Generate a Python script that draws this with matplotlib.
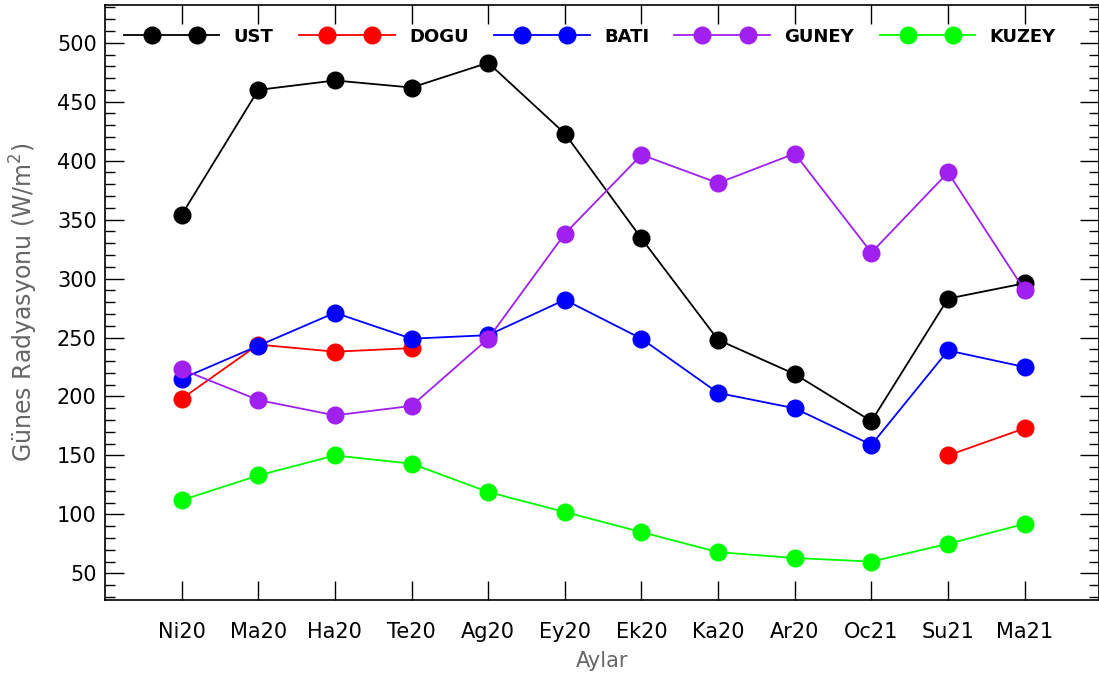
import numpy as np
import matplotlib.pyplot as plt
from matplotlib.lines import Line2D
from matplotlib.legend_handler import HandlerLine2DCompound

# aylar
aylar = ["Ni20", "Ma20", "Ha20", "Te20", "Ag20", "Ey20",
         "Ek20", "Ka20", "Ar20", "Oc21", "Su21", "Ma21"]

# yonlere gore gunes radyasyonu (W/m2)
ust = [354, 460, 468, 462, 483, 423, 334, 248, 219, 179, 283, 296]
dogu = [198, 244, 238, 241, np.nan, np.nan, np.nan, np.nan, np.nan, np.nan, 150, 173]
bati = [215, 243, 271, 249, 252, 282, 249, 203, 190, 159, 239, 225]
guney = [223, 197, 184, 192, 249, 338, 405, 381, 406, 322, 390, 290]
kuzey = [112, 133, 150, 143, 119, 102, 85, 68, 63, 60, 75, 92]

seriler = [("UST", ust, "black"), ("DOGU", dogu, "red"), ("BATI", bati, "blue"),
           ("GUNEY", guney, "#a020f0"), ("KUZEY", kuzey, "#00ff00")]


# lejantta cizgi tam uzunlukta, iki nokta iceride
class IkiNokta(HandlerLine2DCompound):
    def get_xdata(self, legend, xdescent, ydescent, width, height, fontsize):
        xd = np.array([-xdescent, width - xdescent])
        pad = 1.55 * fontsize
        xm = np.array([-xdescent + pad, width - xdescent - pad * 0.8])
        return xd, xm


x = np.arange(1, len(aylar) + 1)

fig = plt.figure(figsize=(10.99, 6.74), dpi=100)
ax = fig.add_axes([105 / 1099, 74 / 674, 1 - 105 / 1099, 595 / 674])

for ad, deger, renk in seriler:
    ax.plot(x, deger, color=renk, lw=1.3, marker="o", markersize=13,
            markeredgewidth=0, label=ad)

ax.set_xlim(0, 12.97)
ax.set_ylim(27.4, 532)
ax.set_xticks(x)
ax.set_xticklabels(aylar)
ax.set_yticks(np.arange(50, 501, 50))
ax.set_yticks(np.arange(30, 531, 10), minor=True)

ax.tick_params(axis="both", which="both", direction="in", top=True, right=True,
               labelsize=15, width=1.0)
ax.tick_params(axis="both", which="major", length=14)
ax.tick_params(axis="y", which="minor", length=7)
ax.tick_params(axis="x", which="major", pad=16)
ax.tick_params(axis="y", which="major", pad=6)
for s in ax.spines.values():
    s.set_linewidth(1.2)

ax.set_ylabel("Günes Radyasyonu (W/m$^2$)", color="#666666", fontsize=17, labelpad=12)
ax.set_xlabel("Aylar", color="#666666", fontsize=15, labelpad=6)

ax.legend(ncol=5, loc="center left", bbox_to_anchor=(0.006, 0.947), frameon=False,
          numpoints=2, handlelength=5.3, handletextpad=0.8, columnspacing=1.4,
          prop={"weight": "bold", "size": 13}, borderaxespad=0.3,
          handler_map={Line2D: IkiNokta()})

plt.savefig("out.png", dpi=100)
